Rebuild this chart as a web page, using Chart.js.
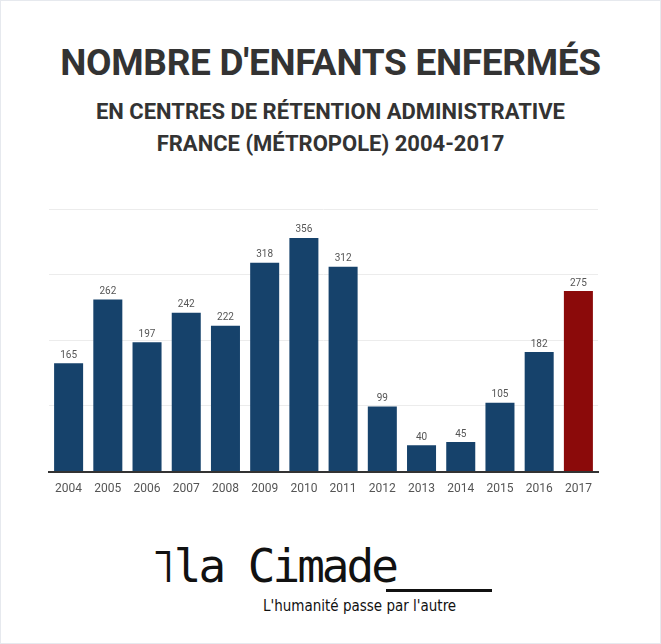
<!DOCTYPE html>
<html>
<head>
<meta charset="utf-8">
<script src="https://cdn.jsdelivr.net/npm/chart.js@4"></script>
<style>
  body { margin: 0; background: #fff; font-family: Roboto, "Noto Sans", sans-serif; }
  #page { position: relative; width: 659px; height: 642px; border: 1px solid #e6e9ee; overflow: hidden; }
  h1 { position: absolute; top: 40px; left: 0; width: 100%; margin: 0; text-align: center; font-size: 37px; font-weight: bold; color: #333; letter-spacing: -0.3px; }
  .sub { position: absolute; left: 0; width: 100%; text-align: center; font-size: 22px; font-weight: bold; color: #333; }
  #wrap { position: absolute; left: 0; top: 198px; }
  #logo { position: absolute; left: 148px; top: 538px; font-family: "DejaVu Sans Mono", monospace; font-size: 46px; color: #111; letter-spacing: -3px; }
  #tag { position: absolute; left: 262px; top: 596px; font-family: "DejaVu Sans Condensed", sans-serif; font-size: 15px; color: #111; }
  #line { position: absolute; left: 385px; top: 588px; width: 106px; height: 3px; background: #111; }
</style>
</head>
<body>
<div id="page">
  <h1>NOMBRE D'ENFANTS ENFERMÉS</h1>
  <div class="sub" style="top:98px">EN CENTRES DE RÉTENTION ADMINISTRATIVE</div>
  <div class="sub" style="top:130px">FRANCE (MÉTROPOLE) 2004-2017</div>
  <div id="wrap"><canvas id="c" width="661" height="305"></canvas></div>
  <div id="logo">˥la Cimade</div>
  <div id="line"></div>
  <div id="tag">L'humanité passe par l'autre</div>
</div>
<script>
const years = ['2004','2005','2006','2007','2008','2009','2010','2011','2012','2013','2014','2015','2016','2017'];
const children = [165, 262, 197, 242, 222, 318, 356, 312, 99, 40, 45, 105, 182, 275];
const barColors = years.map(y => y === '2017' ? '#8b0a0a' : '#16426b');

const valueLabels = {
  id: 'valueLabels',
  afterDatasetsDraw(chart) {
    const ctx = chart.ctx;
    const meta = chart.getDatasetMeta(0);
    ctx.save();
    ctx.font = '10px Roboto';
    ctx.fillStyle = '#555';
    ctx.textAlign = 'center';
    ctx.textBaseline = 'bottom';
    meta.data.forEach((bar, i) => ctx.fillText(children[i], bar.x, bar.y - 3));
    ctx.restore();
  }
};

new Chart(document.getElementById('c'), {
  type: 'bar',
  data: {
    labels: years,
    datasets: [{ data: children, backgroundColor: barColors, barPercentage: 0.74, categoryPercentage: 1 }]
  },
  options: {
    responsive: false,
    animation: false,
    layout: { padding: { left: 48, right: 64, top: 10, bottom: 6 } },
    plugins: { legend: { display: false }, tooltip: { enabled: false } },
    scales: {
      x: {
        grid: { display: false, drawTicks: true },
        border: { color: '#333', width: 2 },
        ticks: { color: '#555', font: { size: 12, family: 'Roboto' }, padding: 2 }
      },
      y: {
        min: 0, max: 400,
        ticks: { display: false, stepSize: 100 },
        grid: { color: '#ececec', drawTicks: false },
        border: { display: false }
      }
    }
  },
  plugins: [valueLabels]
});
</script>
</body>
</html>
